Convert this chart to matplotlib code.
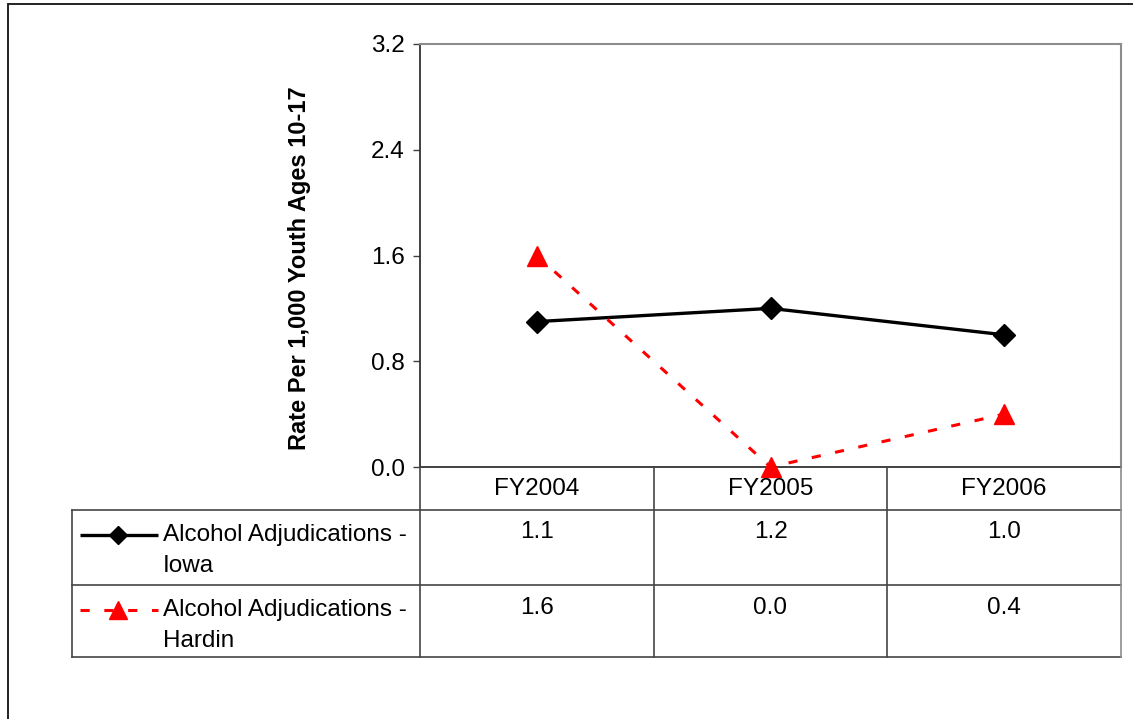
import matplotlib.pyplot as plt
from matplotlib.patches import Rectangle

plt.rcParams['font.family'] = ['Liberation Sans', 'DejaVu Sans']

years = ['FY2004', 'FY2005', 'FY2006']
iowa = [1.1, 1.2, 1.0]
hardin = [1.6, 0.0, 0.4]
series_names = ['Alcohol Adjudications -\nIowa', 'Alcohol Adjudications -\nHardin']
y_ticks = [0.0, 0.8, 1.6, 2.4, 3.2]

W, H = 1133, 719
FS = 17.5
fig = plt.figure(figsize=(W / 100, H / 100), dpi=100)

def fx(px):
    return px / W

def fy(py):
    return 1 - py / H

# outer chart frame (only top and left edges fall inside the image)
fig.add_artist(Rectangle((fx(8), fy(1000)), 2, fy(4) - fy(1000), transform=fig.transFigure,
                         fill=False, edgecolor='#222222', lw=1.4))

# plot area
left, right, top, bottom = 420, 1121, 44, 467
ax = fig.add_axes([fx(left), fy(bottom), fx(right - left), fy(top) - fy(bottom)])
x = range(len(years))
iowa_style = dict(color='black', lw=2.4, marker='D', ms=11)
hardin_style = dict(color='red', lw=2.2, ls=(0, (3, 4.8)), marker='^', ms=14)
ax.plot(x, iowa, zorder=3, clip_on=False, **iowa_style)
ax.plot(x, hardin, zorder=3, clip_on=False, **hardin_style)
ax.set_xlim(-0.5, 2.5)
ax.set_ylim(0, 3.2)
ax.set_yticks(y_ticks)
ax.set_yticklabels([f'{v:.1f}' for v in y_ticks])
ax.set_xticks([])
ax.tick_params(axis='y', labelsize=FS, length=5, width=1, color='#404040', pad=6)
ax.set_ylabel('Rate Per 1,000 Youth Ages 10-17', fontsize=17, fontweight='bold', labelpad=43)
ax.yaxis.label.set_y(0.47)
for side in ['top', 'right']:
    ax.spines[side].set_color('#8c8c8c')
    ax.spines[side].set_linewidth(1.5)
for side in ['left', 'bottom']:
    ax.spines[side].set_color('#333333')
    ax.spines[side].set_linewidth(1.3)

# data table below the plot, drawn in pixel coordinates
tleft, hdr_bot, row1_bot, row2_bot = 72, 510, 585, 657
tab = fig.add_axes([0, 0, 1, 1], facecolor='none')
tab.set_xlim(0, W)
tab.set_ylim(H, 0)
tab.axis('off')
col_w = (right - left) / len(years)
edges = [left + i * col_w for i in range(len(years) + 1)]
lc = '#444444'
for yy in [hdr_bot, row1_bot, row2_bot]:
    tab.plot([tleft, right], [yy, yy], color=lc, lw=1.2)
tab.plot([tleft, tleft], [hdr_bot, row2_bot], color=lc, lw=1.2)
for i, e in enumerate(edges):
    tab.plot([e, e], [bottom, row2_bot], color='#8c8c8c' if i == len(edges) - 1 else lc, lw=1.2)

row_tops = [hdr_bot, row1_bot]
for i, yr in enumerate(years):
    cx = (edges[i] + edges[i + 1]) / 2
    tab.text(cx, bottom + 28, yr, ha='center', va='baseline', fontsize=FS)
    for top_y, vals in zip(row_tops, [iowa, hardin]):
        tab.text(cx, top_y + 28.5, f'{vals[i]:.1f}', ha='center', va='baseline', fontsize=FS)

# legend keys in the first column
for top_y, name, st in zip(row_tops, series_names, [iowa_style, hardin_style]):
    ky = top_y + 25
    line_only = {k: v for k, v in st.items() if k not in ('marker', 'ms')}
    tab.plot([80, 158], [ky, ky], solid_capstyle='butt', **line_only)
    tab.plot([118], [ky], linestyle='none', marker=st['marker'], ms=st['ms'] - 1.5, color=st['color'])
    for j, part in enumerate(name.split('\n')):
        tab.text(163, top_y + 31 + 31 * j, part, ha='left', va='baseline', fontsize=FS)

fig.savefig('out.png', dpi=100)
